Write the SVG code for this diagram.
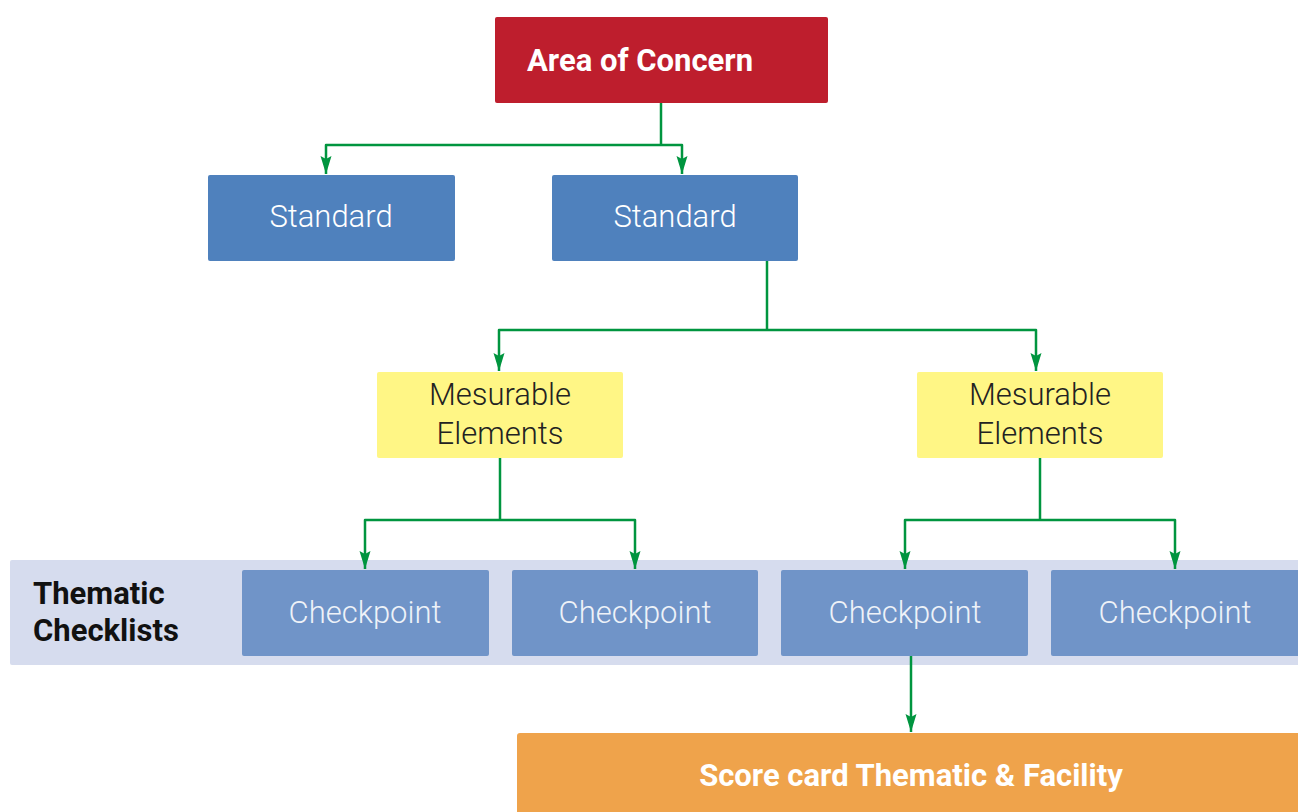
<svg xmlns="http://www.w3.org/2000/svg" width="1298" height="812" viewBox="0 0 1298 812">
<style>
.lt{font-family:Roboto,"Liberation Sans",sans-serif;font-weight:300;font-size:31px;text-anchor:middle}
.bd{font-family:Roboto,"Liberation Sans",sans-serif;font-weight:700;font-size:31px}
.std{fill:#4F81BD}
.cp{fill:#7094C8}
.me{fill:#FFF685}
.con{fill:none;stroke:#00953F;stroke-width:2.5;stroke-linejoin:round}
</style>
<defs>
<marker id="ah" viewBox="0 0 18 12" refX="18" refY="6" markerWidth="18" markerHeight="12" markerUnits="userSpaceOnUse" orient="auto">
<path d="M0,0.5 L18,6 L0,11.5 L3,6 z" fill="#00953F"/>
</marker>
</defs>
<rect width="1298" height="812" fill="#fff"/>
<g id="band">
<rect x="10" y="560" width="1300" height="105" rx="2" fill="#D6DCEE"/>
<text class="bd" x="33" y="604" fill="#111">Thematic</text>
<text class="bd" x="33" y="641" fill="#111">Checklists</text>
</g>
<g id="connectors">
<path class="con" d="M661,103 V145"/>
<path class="con" d="M661,145 H326 V174" marker-end="url(#ah)"/>
<path class="con" d="M661,145 H682 V174" marker-end="url(#ah)"/>
<path class="con" d="M767,261 V330"/>
<path class="con" d="M767,330 H499 V371" marker-end="url(#ah)"/>
<path class="con" d="M767,330 H1036 V371" marker-end="url(#ah)"/>
<path class="con" d="M500,458 V520"/>
<path class="con" d="M500,520 H365 V569" marker-end="url(#ah)"/>
<path class="con" d="M500,520 H635 V569" marker-end="url(#ah)"/>
<path class="con" d="M1040,458 V520"/>
<path class="con" d="M1040,520 H905 V569" marker-end="url(#ah)"/>
<path class="con" d="M1040,520 H1175 V569" marker-end="url(#ah)"/>
<path class="con" d="M911,656 V732" marker-end="url(#ah)"/>
</g>
<g id="area">
<rect x="495" y="17" width="333" height="86" rx="2" fill="#BE1E2D"/>
<text class="bd" x="527" y="71" fill="#fff">Area of Concern</text>
</g>
<g id="standard1">
<rect class="std" x="208" y="175" width="247" height="86" rx="2"/>
<text class="lt" x="331" y="227" fill="#fff">Standard</text>
</g>
<g id="standard2">
<rect class="std" x="552" y="175" width="246" height="86" rx="2"/>
<text class="lt" x="675" y="227" fill="#fff">Standard</text>
</g>
<g id="me1">
<rect class="me" x="377" y="372" width="246" height="86" rx="2"/>
<text class="lt" x="500" y="405" fill="#222">Mesurable</text>
<text class="lt" x="500" y="444" fill="#222">Elements</text>
</g>
<g id="me2">
<rect class="me" x="917" y="372" width="246" height="86" rx="2"/>
<text class="lt" x="1040" y="405" fill="#222">Mesurable</text>
<text class="lt" x="1040" y="444" fill="#222">Elements</text>
</g>
<g id="cp1">
<rect class="cp" x="242" y="570" width="247" height="86" rx="2"/>
<text class="lt" x="365" y="623" fill="#EEF2F8">Checkpoint</text>
</g>
<g id="cp2">
<rect class="cp" x="512" y="570" width="246" height="86" rx="2"/>
<text class="lt" x="635" y="623" fill="#EEF2F8">Checkpoint</text>
</g>
<g id="cp3">
<rect class="cp" x="781" y="570" width="247" height="86" rx="2"/>
<text class="lt" x="905" y="623" fill="#EEF2F8">Checkpoint</text>
</g>
<g id="cp4">
<rect class="cp" x="1051" y="570" width="250" height="86" rx="2"/>
<text class="lt" x="1175" y="623" fill="#EEF2F8">Checkpoint</text>
</g>
<g id="scorecard">
<rect x="517" y="733" width="790" height="90" rx="3" fill="#EFA34B"/>
<text class="bd" x="911" y="786" fill="#fff" text-anchor="middle">Score card Thematic &amp; Facility</text>
</g>
</svg>
